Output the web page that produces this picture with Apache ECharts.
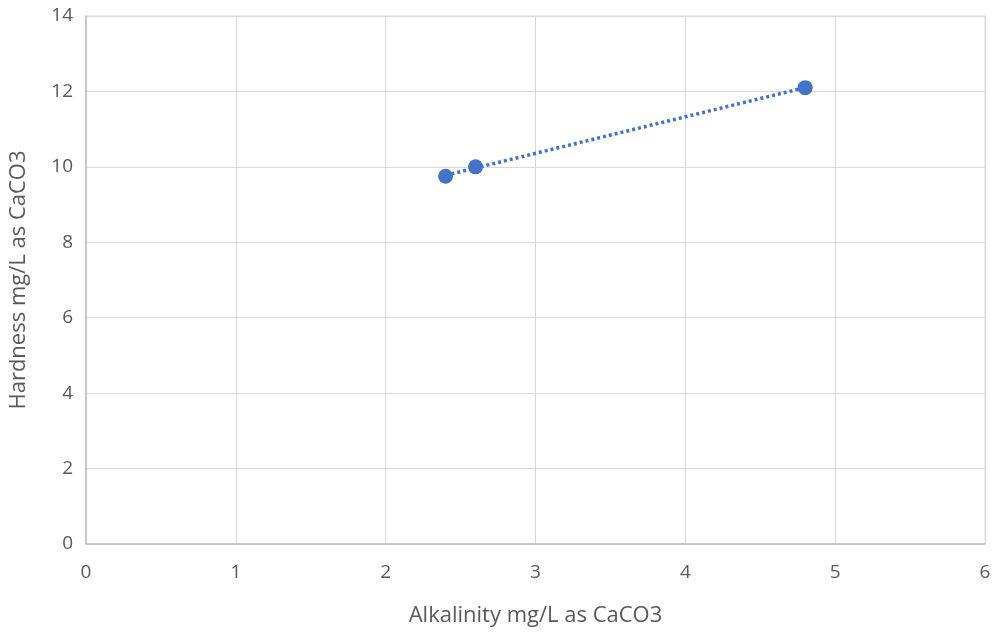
<!DOCTYPE html>
<html>
<head>
<meta charset="utf-8">
<script src="https://cdn.jsdelivr.net/npm/echarts@6/dist/echarts.min.js"></script>
<style>
  html, body { margin: 0; padding: 0; background: #ffffff; }
  #chart { width: 1002px; height: 636px; }
</style>
</head>
<body>
<div id="chart"></div>
<script>
// Sample measurements
const alkalinity = [2.4, 2.6, 4.8];
const hardness = [9.75, 10.0, 12.1];
const xTicks = [0, 1, 2, 3, 4, 5, 6];
const yTicks = [0, 2, 4, 6, 8, 10, 12, 14];

// Least-squares linear trendline across the measured range
function linearFit(xs, ys) {
  const n = xs.length;
  const mx = xs.reduce((a, b) => a + b, 0) / n;
  const my = ys.reduce((a, b) => a + b, 0) / n;
  let sxy = 0, sxx = 0;
  for (let i = 0; i < n; i++) {
    sxy += (xs[i] - mx) * (ys[i] - my);
    sxx += (xs[i] - mx) * (xs[i] - mx);
  }
  const slope = sxy / sxx;
  return { slope, intercept: my - slope * mx };
}
const fit = linearFit(alkalinity, hardness);
const xMin = Math.min(...alkalinity), xMax = Math.max(...alkalinity);
const trend = [xMin, xMax].map(x => [x, fit.intercept + fit.slope * x]);

const points = alkalinity.map((x, i) => [x, hardness[i]]);

const FONT = '"Open Sans", "Liberation Sans", sans-serif';
const LABEL = '#595959';

const chart = echarts.init(document.getElementById('chart'), null, { renderer: 'canvas' });
chart.setOption({
  animation: false,
  backgroundColor: '#ffffff',
  grid: { left: 85, right: 17, top: 16, bottom: 92, show: true, borderColor: '#d9d9d9', borderWidth: 1 },
  xAxis: {
    type: 'value',
    min: xTicks[0], max: xTicks[xTicks.length - 1], interval: 1,
    name: 'Alkalinity mg/L as CaCO3',
    nameLocation: 'middle', nameGap: 61,
    nameTextStyle: { color: LABEL, fontSize: 22, fontFamily: FONT },
    axisLine: { show: true, lineStyle: { color: '#bfbfbf', width: 1.5 } },
    axisTick: { show: false },
    axisLabel: { color: LABEL, fontSize: 19, fontFamily: FONT, margin: 19 },
    splitLine: { show: true, lineStyle: { color: '#d9d9d9', width: 1 } }
  },
  yAxis: {
    type: 'value',
    min: yTicks[0], max: yTicks[yTicks.length - 1], interval: 2,
    name: 'Hardness mg/L as CaCO3',
    nameLocation: 'middle', nameGap: 56,
    nameTextStyle: { color: LABEL, fontSize: 22, fontFamily: FONT },
    axisLine: { show: true, lineStyle: { color: '#bfbfbf', width: 1.5 } },
    axisTick: { show: false },
    axisLabel: { color: LABEL, fontSize: 19, fontFamily: FONT, margin: 13 },
    splitLine: { show: true, lineStyle: { color: '#d9d9d9', width: 1 } }
  },
  series: [
    {
      name: 'Trend',
      type: 'line',
      data: trend,
      showSymbol: false,
      lineStyle: { color: '#4472C4', width: 3.5, type: [3, 3] },
      z: 2
    },
    {
      name: 'Hardness',
      type: 'scatter',
      data: points,
      symbol: 'circle',
      symbolSize: 15,
      itemStyle: { color: '#4472C4', opacity: 1 },
      z: 3
    }
  ]
});
</script>
</body>
</html>
